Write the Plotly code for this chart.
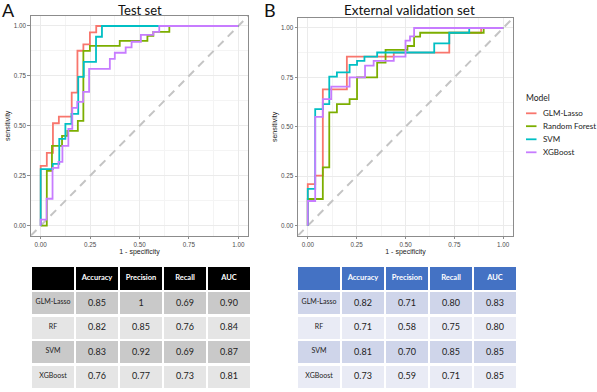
import plotly.graph_objects as go

# ---------------- data ----------------
models = ["GLM-Lasso", "Random Forest", "SVM", "XGBoost"]
colors = ["#F8766D", "#7CAE00", "#00BFC4", "#C77CFF"]

# Test set ROC corner points (1 - specificity, sensitivity)
test_glm_fpr = [0, 0, 0.031, 0.062, 0.092, 0.157, 0.186, 0.216, 0.249, 0.281, 1.0]
test_glm_tpr = [0, 0.30, 0.365, 0.513, 0.546, 0.666, 0.876, 0.908, 0.968, 1.0, 1.0]
test_rf_fpr = [0, 0.031, 0.057, 0.108, 0.135, 0.188, 0.216, 0.249, 0.40, 0.54, 0.57, 0.651, 1.0]
test_rf_tpr = [0, 0.275, 0.40, 0.45, 0.475, 0.525, 0.875, 0.90, 0.925, 0.95, 0.971, 1.0, 1.0]
test_svm_fpr = [0, 0, 0.061, 0.094, 0.125, 0.156, 0.19, 0.218, 0.28, 0.31, 1.0]
test_svm_tpr = [0, 0.283, 0.31, 0.435, 0.51, 0.56, 0.745, 0.82, 0.946, 1.0, 1.0]
test_xgb_fpr = [0, 0, 0.03, 0.06, 0.09, 0.11, 0.14, 0.16, 0.185, 0.215, 0.245, 0.35, 0.375,
                0.43, 0.46, 0.507, 0.57, 0.60, 1.0]
test_xgb_tpr = [0, 0.03, 0.135, 0.29, 0.32, 0.40, 0.485, 0.59, 0.62, 0.67, 0.785, 0.835, 0.866,
                0.893, 0.921, 0.955, 0.971, 1.0, 1.0]

# External validation set ROC corner points
ext_glm_fpr = [0, 0, 0.038, 0.077, 0.20, 0.44, 0.724, 0.887, 1.0]
ext_glm_tpr = [0, 0.21, 0.253, 0.69, 0.855, 0.875, 0.976, 1.0, 1.0]
ext_rf_fpr = [0, 0, 0.077, 0.11, 0.149, 0.214, 0.252, 0.355, 0.398, 0.51, 0.544, 0.575, 0.90, 1.0]
ext_rf_tpr = [0, 0.135, 0.295, 0.573, 0.615, 0.64, 0.75, 0.825, 0.889, 0.909, 0.956, 0.976, 1.0, 1.0]
ext_svm_fpr = [0, 0, 0.038, 0.077, 0.11, 0.149, 0.214, 0.252, 0.29, 0.355, 0.647, 0.724, 0.826, 1.0]
ext_svm_tpr = [0, 0.186, 0.59, 0.615, 0.754, 0.776, 0.813, 0.834, 0.855, 0.876, 0.922, 0.976, 1.0, 1.0]
ext_xgb_fpr = [0, 0, 0.038, 0.077, 0.12, 0.214, 0.293, 0.337, 0.44, 0.50, 0.523, 0.544, 1.0]
ext_xgb_tpr = [0, 0.125, 0.55, 0.64, 0.703, 0.75, 0.81, 0.834, 0.855, 0.936, 0.958, 1.0, 1.0]

test_curves = [(test_glm_fpr, test_glm_tpr), (test_rf_fpr, test_rf_tpr),
               (test_svm_fpr, test_svm_tpr), (test_xgb_fpr, test_xgb_tpr)]
ext_curves = [(ext_glm_fpr, ext_glm_tpr), (ext_rf_fpr, ext_rf_tpr),
              (ext_svm_fpr, ext_svm_tpr), (ext_xgb_fpr, ext_xgb_tpr)]

axis_range = [-0.05, 1.05]
tick_vals = [0, 0.25, 0.5, 0.75, 1.0]
tick_text = ["0.00", "0.25", "0.50", "0.75", "1.00"]

# Tables
table_header = ["", "Accuracy", "Precision", "Recall", "AUC"]
table_rows = ["GLM-Lasso", "RF", "SVM", "XGBoost"]
test_accuracy = ["0.85", "0.82", "0.83", "0.76"]
test_precision = ["1", "0.85", "0.92", "0.77"]
test_recall = ["0.69", "0.76", "0.69", "0.73"]
test_auc = ["0.90", "0.84", "0.87", "0.81"]
ext_accuracy = ["0.82", "0.71", "0.81", "0.73"]
ext_precision = ["0.71", "0.58", "0.70", "0.59"]
ext_recall = ["0.80", "0.75", "0.85", "0.71"]
ext_auc = ["0.83", "0.80", "0.85", "0.85"]

W, H = 597, 392
def px_x(v):
    return v / W
def px_y(v):
    return 1 - v / H

fig = go.Figure()

diag_style = dict(color="#c4c4c4", width=2, dash="8px,6px")
for xa, ya in [("x", "y"), ("x2", "y2")]:
    fig.add_trace(go.Scatter(x=axis_range, y=axis_range, mode="lines", line=diag_style,
                             xaxis=xa, yaxis=ya, showlegend=False, hoverinfo="skip"))

for i, (fx, ty) in enumerate(test_curves):
    fig.add_trace(go.Scatter(x=fx, y=ty, mode="lines", line=dict(color=colors[i], width=1.8, shape="hv"),
                             name=models[i], showlegend=False, xaxis="x", yaxis="y"))
for i, (fx, ty) in enumerate(ext_curves):
    fig.add_trace(go.Scatter(x=fx, y=ty, mode="lines", line=dict(color=colors[i], width=1.8, shape="hv"),
                             name=models[i], showlegend=False, xaxis="x2", yaxis="y2"))

tfont = "Lato"
dark_grey = "#c9c9c9"
light_grey = "#e5e5e5"
row_fill_test = [dark_grey, light_grey, dark_grey, light_grey]
dark_blue = "#cfd5ea"
light_blue = "#e9ebf5"
row_fill_ext = [dark_blue, light_blue, dark_blue, light_blue]

def make_table(cols, row_fill, header_color, xdom):
    return go.Table(
        domain=dict(x=xdom, y=[px_y(391), px_y(266)]),
        columnwidth=[1, 1, 1, 1, 1],
        header=dict(values=table_header, fill_color=header_color, line=dict(color="white", width=2.5),
                    align="center", height=25,
                    font=dict(family=tfont, size=7.5, color="white", weight="bold")),
        cells=dict(values=[table_rows] + cols, fill_color=[row_fill] * 5,
                   line=dict(color="white", width=2.5), align="center", height=24.5,
                   font=dict(family=tfont, size=[7, 9, 9, 9, 9], color="#222222")),
    )

fig.add_trace(make_table([test_accuracy, test_precision, test_recall, test_auc], row_fill_test,
                         "#000000", [px_x(31), px_x(251)]))
fig.add_trace(make_table([ext_accuracy, ext_precision, ext_recall, ext_auc], row_fill_ext,
                         "#4472c4", [px_x(297), px_x(517)]))

axis_common = dict(range=axis_range, tickvals=tick_vals, ticktext=tick_text, showgrid=True,
                   gridcolor="#ebebeb", gridwidth=0.8, zeroline=False, showline=True, mirror=True,
                   linecolor="#8c8c8c", linewidth=1, ticks="outside", ticklen=2.5, tickcolor="#8c8c8c",
                   tickfont=dict(family="Liberation Sans", size=6.3, color="#4d4d4d"),
                   minor=dict(tick0=0.125, dtick=0.25, showgrid=True, gridcolor="#f4f4f4", gridwidth=0.6),
                   fixedrange=True)
title_font = dict(family="Liberation Sans", size=7, color="#222222")

fig.update_layout(
    width=W, height=H, margin=dict(l=0, r=0, t=0, b=0),
    paper_bgcolor="white", plot_bgcolor="white",
    xaxis=dict(axis_common, domain=[px_x(30.8), px_x(248.2)], anchor="y",
               title=dict(text="1 - specificity", font=title_font, standoff=2)),
    yaxis=dict(axis_common, domain=[px_y(235.7), px_y(16)], anchor="x",
               title=dict(text="sensitivity", font=title_font, standoff=2)),
    xaxis2=dict(axis_common, domain=[px_x(298), px_x(513)], anchor="y2",
                title=dict(text="1 - specificity", font=title_font, standoff=2)),
    yaxis2=dict(axis_common, domain=[px_y(235.6), px_y(18.1)], anchor="x2",
                title=dict(text="sensitivity", font=title_font, standoff=2)),
    showlegend=False,
)

annots = [("A", 8, 10, 18), ("Test set", 139.5, 10, 13), ("B", 270, 10, 18),
          ("External validation set", 409, 10, 13.5)]
for text, x, y, s in annots:
    fig.add_annotation(text=text, x=px_x(x), y=px_y(y), xref="paper", yref="paper",
                       showarrow=False, xanchor="center", yanchor="middle",
                       font=dict(family=tfont, size=s, color="#111111"))

# manual legend (ggplot style, short keys)
fig.add_annotation(text="Model", x=px_x(524), y=px_y(97.5), xref="paper", yref="paper",
                   showarrow=False, xanchor="left", yanchor="middle",
                   font=dict(family=tfont, size=8.5, color="#222222"))
legend_y = [113.3, 126.2, 139.3, 152.3]
for name, col, ly in zip(models, colors, legend_y):
    fig.add_shape(type="line", xref="paper", yref="paper", x0=px_x(526), x1=px_x(536.5),
                  y0=px_y(ly), y1=px_y(ly), line=dict(color=col, width=1.8))
    fig.add_annotation(text=name, x=px_x(541), y=px_y(ly), xref="paper", yref="paper",
                       showarrow=False, xanchor="left", yanchor="middle",
                       font=dict(family=tfont, size=8, color="#222222"))

fig.write_html("out.html", config={"displayModeBar": False},
               post_script="document.body.style.margin='0';")
